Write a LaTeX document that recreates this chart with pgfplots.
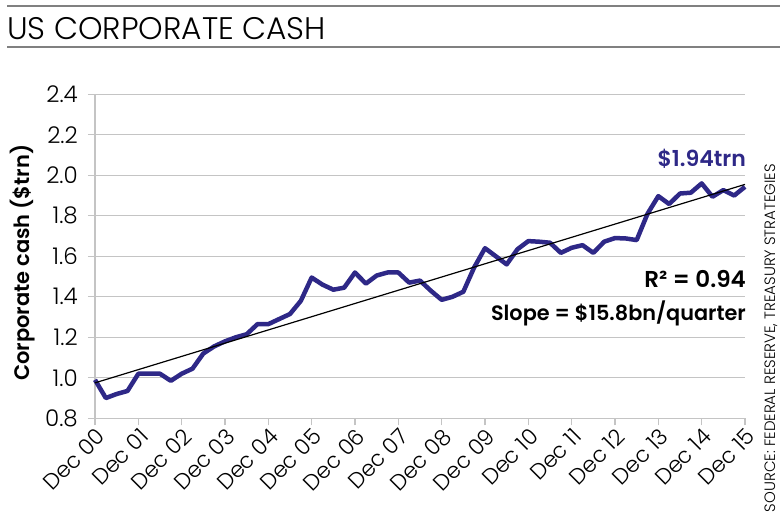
\documentclass[border=0pt]{standalone}
\usepackage{fontspec}
\setmainfont{Poppins}[UprightFont={* Light}, BoldFont={* SemiBold}]
\usepackage{pgfplots}
\pgfplotsset{compat=1.18}
\definecolor{cashblue}{RGB}{46,40,135}
\definecolor{gridgray}{RGB}{196,196,196}
\definecolor{rulegray}{RGB}{128,128,128}
\pgfplotstableread{
q v
0 0.99
1 0.90
2 0.92
3 0.935
4 1.02
5 1.02
6 1.02
7 0.985
8 1.02
9 1.045
10 1.12
11 1.155
12 1.18
13 1.20
14 1.215
15 1.265
16 1.265
17 1.29
18 1.315
19 1.38
20 1.495
21 1.46
22 1.435
23 1.445
24 1.52
25 1.465
26 1.505
27 1.52
28 1.52
29 1.47
30 1.48
31 1.43
32 1.385
33 1.40
34 1.425
35 1.545
36 1.64
37 1.60
38 1.56
39 1.635
40 1.675
41 1.672
42 1.667
43 1.617
44 1.642
45 1.655
46 1.617
47 1.672
48 1.69
49 1.688
50 1.68
51 1.81
52 1.897
53 1.858
54 1.91
55 1.914
56 1.96
57 1.894
58 1.927
59 1.90
60 1.943
}\cashdata
\begin{document}
\begin{tikzpicture}
\useasboundingbox (0,0) rectangle (780pt,518pt);
\draw[rulegray, line width=1.5pt] (7pt,512pt) -- (780pt,512pt);
\draw[rulegray, line width=1.5pt] (7pt,471pt) -- (780pt,471pt);
\node[anchor=base west, inner sep=0pt, font=\fontsize{31.2}{31.2}\selectfont] at (7pt,478pt) {US CORPORATE CASH};
\node[rotate=90, anchor=center, inner sep=0pt, font=\fontsize{15}{15}\selectfont] at (771pt,180pt) {SOURCE: FEDERAL RESERVE, TREASURY STRATEGIES};
\begin{axis}[
  at={(95pt,99.7pt)}, anchor=south west,
  scale only axis, width=650pt, height=324pt,
  xmin=0, xmax=60, ymin=0.8, ymax=2.4,
  axis x line*=bottom, axis y line*=left,
  axis line style={gridgray, line width=1.2pt},
  xtick={0,4,...,60},
  xticklabels={Dec 00,Dec 01,Dec 02,Dec 03,Dec 04,Dec 05,Dec 06,Dec 07,Dec 08,Dec 09,Dec 10,Dec 11,Dec 12,Dec 13,Dec 14,Dec 15},
  ytick={0.8,1.0,1.2,1.4,1.6,1.8,2.0,2.2,2.4},
  yticklabel style={/pgf/number format/fixed, /pgf/number format/precision=1, /pgf/number format/fixed zerofill, /pgf/number format/assume math mode=true, font=\fontsize{23}{23}\selectfont, inner sep=0pt, xshift=-10pt},
  xticklabel style={rotate=45, anchor=north east, font=\fontsize{22}{22}\selectfont, inner sep=1pt},
  tick align=outside,
  major tick length=7pt,
  tick style={gridgray, line width=1.2pt},
  ymajorgrids,
  major grid style={gridgray, line width=1.4pt},
  ylabel={\textbf{Corporate cash (\$trn)}},
  ylabel style={at={(axis description cs:-0.112,0.48)}, anchor=center, font=\fontsize{21}{21}\selectfont},
  clip=false,
]
\addplot[cashblue, line width=4.5pt, line join=round] table[x=q, y=v] {\cashdata};
\addplot[black, line width=1.2pt] coordinates {(0,0.975) (60,1.955)};
\node[anchor=base east, inner sep=0pt, text=cashblue, font=\bfseries\fontsize{22}{22}\selectfont] at (axis cs:60.1,2.041) {\$1.94trn};
\node[anchor=base east, inner sep=0pt, font=\bfseries\fontsize{23}{23}\selectfont] at (axis cs:60.1,1.448) {R² = 0.94};
\node[anchor=base east, inner sep=0pt, font=\bfseries\fontsize{20.8}{20.8}\selectfont] at (axis cs:60.1,1.282) {Slope = \$15.8bn/quarter};
\end{axis}
\end{tikzpicture}
\end{document}
